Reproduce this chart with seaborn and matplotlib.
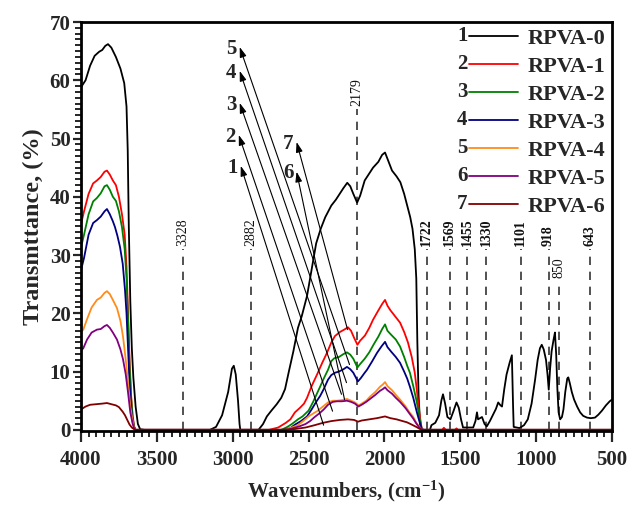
import matplotlib
matplotlib.use("Agg")
import matplotlib.pyplot as plt
from matplotlib.lines import Line2D
from matplotlib.ticker import MultipleLocator
import numpy as np
import pandas as pd
import seaborn as sns

# ---- FTIR spectra: wavenumber (cm-1) and transmittance (%) per sample ----
wn_rpva0 = [4000, 3970, 3940, 3910, 3880, 3860, 3840, 3822, 3800, 3770, 3740, 3715, 3700, 3692,
            3685, 3675, 3665, 3655, 3640, 3625, 3610, 3580, 3150, 3110, 3070, 3030, 3005, 2993,
            2980, 2965, 2955, 2950, 2830, 2800, 2775, 2745, 2710, 2680, 2655, 2630, 2600, 2570,
            2545, 2510, 2480, 2450, 2420, 2390, 2350, 2320, 2300, 2270, 2245, 2225, 2205, 2180,
            2160, 2130, 2100, 2075, 2040, 2015, 1996, 1975, 1950, 1920, 1895, 1870, 1850, 1830,
            1815, 1800, 1790, 1783, 1775, 1765, 1755, 1700, 1690, 1665, 1640, 1625, 1614, 1600,
            1585, 1565, 1545, 1525, 1510, 1495, 1482, 1415, 1400, 1390, 1383, 1370, 1357, 1340,
            1325, 1305, 1290, 1265, 1250, 1235, 1225, 1210, 1195, 1175, 1160, 1152, 1148, 1110,
            1080, 1055, 1030, 1007, 990, 975, 963, 950, 935, 925, 917, 908, 898, 885, 876, 868,
            860, 852, 842, 830, 820, 808, 795, 788, 778, 765, 750, 730, 710, 690, 665, 640, 612,
            590, 566, 540, 515, 500]
t_rpva0 = [58.8, 60.0, 62.5, 64.2, 64.9, 65.2, 65.9, 66.2, 65.6, 64.0, 62.0, 59.5, 55.5, 48.0,
           35.0, 22.0, 14.0, 9.0, 4.0, 1.0, 0.1, 0.0, 0.0, 0.5, 2.5, 6.5, 10.5, 11.0,
           9.5, 5.0, 1.0, 0.0, 0.0, 1.0, 2.3, 3.3, 4.4, 5.5, 7.0, 10.0, 13.5, 17.5,
           19.5, 23.0, 27.5, 32.0, 34.5, 36.5, 38.5, 39.5, 40.3, 41.5, 42.4, 41.8, 40.5, 39.0,
           40.2, 42.8, 44.0, 45.0, 46.0, 47.2, 47.6, 46.2, 44.5, 43.5, 42.5, 40.5, 38.5, 36.5,
           34.5, 31.0, 26.0, 15.0, 6.0, 1.0, 0.0, 0.0, 0.8, 1.2, 2.5, 5.0, 6.1, 4.5,
           2.2, 1.8, 3.2, 4.7, 3.8, 1.8, 0.4, 0.4, 1.5, 3.0, 1.8, 2.0, 2.2, 1.0,
           0.6, 1.5, 2.3, 3.6, 4.7, 4.2, 4.0, 7.0, 9.5, 11.5, 12.8, 4.0, 0.5, 0.3,
           0.8, 1.8, 4.5, 8.6, 12.0, 14.0, 14.6, 13.8, 12.0, 9.5, 6.9, 10.5, 13.5, 15.5, 16.7, 13.0,
           7.0, 3.0, 1.8, 2.2, 3.5, 6.5, 8.8, 9.0, 8.0, 6.5, 5.2, 4.0, 3.0, 2.4, 2.1, 2.0, 2.1,
           2.6, 3.3, 4.2, 4.9, 5.2]

wn_rpva1 = [4000, 3980, 3950, 3920, 3895, 3870, 3845, 3829, 3810, 3790, 3770, 3750, 3730, 3712,
            3700, 3690, 3680, 3670, 3660, 3650, 3640, 2760, 2700, 2650, 2620, 2590, 2556, 2530,
            2510, 2480, 2444, 2410, 2379, 2350, 2326, 2293, 2265, 2240, 2220, 2200, 2178, 2160,
            2128, 2100, 2075, 2040, 2015, 1996, 1980, 1960, 1930, 1897, 1870, 1845, 1820, 1800,
            1785, 1770, 1755, 1745, 1620, 1608, 1596, 1535, 1525, 1515, 500]
t_rpva1 = [35.3, 37.5, 40.5, 42.3, 42.8, 43.4, 44.3, 44.5, 43.8, 42.8, 42.0, 40.0, 37.0, 33.5,
           28.0, 20.0, 12.0, 6.0, 2.5, 0.6, 0.0, 0.0, 0.4, 1.2, 1.8, 3.0, 3.8, 4.5,
           5.5, 7.5, 9.5, 11.5, 13.2, 15.0, 16.1, 16.8, 17.2, 17.6, 17.0, 15.8, 14.6, 15.3,
           16.2, 17.5, 18.9, 20.5, 21.6, 22.3, 21.3, 20.5, 19.5, 18.4, 16.8, 15.0, 12.5, 9.8,
           6.5, 3.0, 0.3, 0.0, 0.0, 0.35, 0.0, 0.0, 0.25, 0.0, 0.0]

wn_rpva2 = [4000, 3980, 3950, 3920, 3895, 3870, 3845, 3829, 3810, 3790, 3770, 3750, 3730, 3712,
            3700, 3690, 3680, 3670, 3660, 3650, 3640, 2680, 2640, 2610, 2570, 2540, 2500, 2470,
            2440, 2424, 2400, 2372, 2350, 2330, 2300, 2270, 2247, 2225, 2205, 2178, 2160, 2130,
            2100, 2070, 2040, 2015, 1996, 1980, 1955, 1925, 1897, 1870, 1850, 1832, 1810, 1786,
            1770, 1755, 1745, 500]
t_rpva2 = [31.3, 33.5, 37.0, 39.2, 39.8, 40.6, 41.8, 42.0, 41.2, 40.0, 39.3, 37.5, 34.8, 31.0,
           26.0, 19.0, 11.0, 5.5, 2.2, 0.5, 0.0, 0.0, 0.5, 1.0, 1.8, 2.3, 3.3, 4.8,
           6.5, 7.4, 8.8, 10.3, 11.8, 12.3, 12.5, 13.0, 13.3, 12.9, 12.2, 10.7, 11.3, 12.2,
           13.3, 14.7, 16.0, 17.3, 18.1, 17.0, 16.3, 15.5, 14.3, 12.5, 11.0, 9.8, 7.5, 4.7,
           2.2, 0.3, 0.0, 0.0]

wn_rpva3 = [4000, 3980, 3950, 3920, 3895, 3870, 3845, 3829, 3810, 3790, 3776, 3760, 3743, 3725,
            3710, 3700, 3690, 3680, 3670, 3660, 3648, 3640, 2660, 2620, 2589, 2550, 2510, 2480,
            2450, 2424, 2400, 2372, 2350, 2326, 2300, 2270, 2247, 2225, 2205, 2175, 2155, 2130,
            2115, 2080, 2049, 2020, 1996, 1980, 1955, 1925, 1897, 1870, 1850, 1832, 1810, 1786,
            1770, 1755, 1745, 500]
t_rpva3 = [27.4, 29.5, 33.5, 35.5, 36.0, 36.6, 37.5, 37.9, 37.0, 35.8, 34.8, 33.3, 31.4, 28.5,
           24.0, 20.0, 14.0, 8.0, 4.0, 1.5, 0.3, 0.0, 0.0, 0.3, 0.9, 1.5, 2.3, 3.5,
           4.8, 5.8, 7.0, 8.6, 9.4, 9.8, 10.0, 10.4, 10.8, 10.4, 9.8, 8.3, 8.9, 9.8,
           10.3, 11.8, 13.2, 14.3, 15.1, 14.2, 13.4, 12.5, 11.5, 10.0, 8.8, 7.4, 5.5, 3.0,
           1.5, 0.2, 0.0, 0.0]

wn_rpva4 = [4000, 3985, 3960, 3930, 3895, 3870, 3845, 3829, 3810, 3790, 3763, 3740, 3723, 3705,
            3690, 3675, 3660, 3650, 3640, 2650, 2610, 2570, 2536, 2500, 2470, 2444, 2410, 2372,
            2340, 2313, 2280, 2247, 2220, 2194, 2170, 2150, 2120, 2095, 2060, 2029, 2010, 1996,
            1980, 1950, 1925, 1897, 1860, 1835, 1812, 1790, 1770, 1755, 1745, 500]
t_rpva4 = [16.8, 17.2, 19.0, 21.0, 22.3, 22.7, 23.5, 23.8, 23.3, 22.3, 20.9, 18.7, 16.0, 12.0,
           8.1, 4.0, 1.5, 0.4, 0.0, 0.0, 0.4, 0.8, 1.5, 2.3, 2.8, 3.2, 3.9, 4.7,
           5.0, 5.0, 5.1, 5.3, 5.0, 4.7, 4.2, 4.5, 5.0, 5.7, 6.5, 7.4, 7.8, 8.2,
           7.5, 6.8, 6.0, 5.2, 4.0, 3.0, 2.3, 1.2, 0.5, 0.1, 0.0, 0.0]

wn_rpva5 = [4000, 3985, 3960, 3930, 3895, 3870, 3845, 3829, 3810, 3790, 3763, 3740, 3723, 3705,
            3690, 3675, 3660, 3650, 3640, 2640, 2600, 2560, 2520, 2490, 2460, 2430, 2400, 2372,
            2340, 2313, 2280, 2247, 2220, 2194, 2172, 2150, 2120, 2095, 2060, 2029, 2010, 1996,
            1980, 1950, 1925, 1897, 1860, 1835, 1812, 1790, 1770, 1755, 1745, 500]
t_rpva5 = [13.6, 14.0, 15.5, 16.7, 17.2, 17.3, 17.8, 18.0, 17.5, 16.7, 15.5, 13.8, 12.1, 9.5,
           6.4, 3.0, 1.1, 0.3, 0.0, 0.0, 0.3, 0.6, 1.0, 1.5, 2.2, 2.8, 3.5, 4.3,
           4.8, 4.9, 4.9, 5.0, 4.8, 4.5, 4.0, 4.3, 4.8, 5.3, 6.0, 6.7, 7.0, 7.3,
           6.8, 6.2, 5.5, 4.8, 3.7, 2.8, 2.0, 1.1, 0.4, 0.1, 0.0, 0.0]

wn_rpva6 = [4000, 3970, 3940, 3900, 3860, 3829, 3800, 3770, 3750, 3725, 3710, 3695, 3680, 3665,
            3650, 3640, 2700, 2600, 2520, 2460, 2405, 2350, 2293, 2240, 2200, 2174, 2150, 2100,
            2050, 1996, 1960, 1920, 1880, 1852, 1820, 1790, 1770, 1755, 500]
t_rpva6 = [3.5, 4.0, 4.3, 4.4, 4.5, 4.6, 4.4, 4.2, 3.9, 3.1, 2.5, 1.7, 0.9, 0.4,
           0.1, 0.0, 0.0, 0.1, 0.4, 0.8, 1.2, 1.5, 1.7, 1.8, 1.7, 1.4, 1.6, 1.8,
           2.0, 2.3, 2.0, 1.8, 1.5, 1.3, 0.9, 0.5, 0.2, 0.0, 0.0]

sample_names = ["RPVA-0", "RPVA-1", "RPVA-2", "RPVA-3", "RPVA-4", "RPVA-5", "RPVA-6"]
sample_numbers = ["1", "2", "3", "4", "5", "6", "7"]
sample_colors = ["#000000", "#ff0000", "#008000", "#000080", "#ff8c1a", "#800080", "#800000"]

# Band positions marked with dashed guides (cm-1)
band_positions = [3328, 2882, 2179, 1722, 1569, 1455, 1330, 1101, 918, 850, 643]

wn_all = [wn_rpva0, wn_rpva1, wn_rpva2, wn_rpva3, wn_rpva4, wn_rpva5, wn_rpva6]
t_all = [t_rpva0, t_rpva1, t_rpva2, t_rpva3, t_rpva4, t_rpva5, t_rpva6]

frames = []
for name, wn, t in zip(sample_names, wn_all, t_all):
    frames.append(pd.DataFrame({"wavenumber": wn, "transmittance": t, "sample": name}))
spectra = pd.concat(frames, ignore_index=True)

# ---- styling ----
sns.set_style("ticks")
SERIF = "Liberation Serif"
plt.rcParams["font.family"] = [SERIF, "DejaVu Serif"]
plt.rcParams["font.weight"] = "bold"
plt.rcParams["mathtext.fontset"] = "custom"
plt.rcParams["mathtext.rm"] = "Liberation Serif:bold"
plt.rcParams["mathtext.bf"] = "Liberation Serif:bold"
plt.rcParams["mathtext.it"] = "Liberation Serif:bold"

fig = plt.figure(figsize=(6.30, 5.09), dpi=100)
ax = fig.add_axes([81 / 630, 1 - 431 / 509, 531 / 630, 409 / 509])

sns.lineplot(data=spectra, x="wavenumber", y="transmittance", hue="sample",
             hue_order=sample_names, palette=sample_colors, estimator=None,
             sort=False, units="sample", legend=False, linewidth=1.3, ax=ax)

ax.set_xlim(4000, 500)
ax.set_ylim(-0.2, 70)

# dashed band guides with rotated labels
guide_top = [31, 31, 55, 31, 31, 31, 31, 31, 31, 25.5, 31]
guide_bold = [False, False, False, True, True, True, True, True, True, False, True]
for pos, top, bold in zip(band_positions, guide_top, guide_bold):
    ax.plot([pos, pos], [0, top], color="#333333", lw=1.2, ls=(0, (5, 4)), zorder=1)
    ax.text(pos, top + 0.6, str(pos), rotation=90, ha="center", va="bottom",
            fontsize=10, fontweight="bold" if bold else "normal", color="#111111")

# numbered arrows pointing into the curve bundle
arrow_heads = {"5": (2954, 65.7), "4": (2954, 61.6), "3": (2954, 56.1), "2": (2960, 50.6),
               "1": (2947, 45.3), "7": (2579, 49.4), "6": (2579, 44.3)}
arrow_tails = {"1": (2401, 0.8), "2": (2342, 3.2), "3": (2283, 6.1), "4": (2250, 8.1),
               "5": (2230, 11.2), "6": (2263, 5.2), "7": (2243, 17.2)}
for key, head in arrow_heads.items():
    tail = arrow_tails[key]
    ax.annotate("", xy=head, xytext=tail,
                arrowprops=dict(arrowstyle="-|>,head_length=0.6,head_width=0.2",
                                color="black", lw=0.8, shrinkA=0, shrinkB=0))
    ax.text(head[0] + 55, head[1] - 0.3, key, ha="center", va="center",
            fontsize=15, fontweight="bold")

# axes decoration
for side in ["left", "bottom", "top", "right"]:
    ax.spines[side].set_visible(True)
    ax.spines[side].set_linewidth(2.0)
    ax.spines[side].set_color("black")
ax.xaxis.set_major_locator(MultipleLocator(500))
ax.xaxis.set_minor_locator(MultipleLocator(50))
ax.yaxis.set_major_locator(MultipleLocator(10))
ax.yaxis.set_minor_locator(MultipleLocator(1))
ax.tick_params(axis="x", which="major", direction="out", length=8, width=1.6, pad=6,
               labelsize=15)
ax.tick_params(axis="x", which="minor", direction="out", length=4.5, width=1.4)
ax.tick_params(axis="y", which="major", direction="out", length=6, width=1.6, pad=1.5,
               labelsize=15)
ax.tick_params(axis="y", which="minor", direction="out", length=4, width=1.4)
ax.tick_params(top=False, right=False, which="both")
for lab in ax.get_xticklabels() + ax.get_yticklabels():
    lab.set_fontweight("bold")

ax.set_xlabel("Wavenumbers, (cm$^{-1}$)", fontsize=15, fontweight="bold", labelpad=6)
ax.set_ylabel("Transmttance, (%)", fontsize=17.5, fontweight="bold", labelpad=4)

handles = [Line2D([], [], color=c, lw=1.3) for c in sample_colors]
leg = ax.legend(handles, sample_names, loc="upper right", frameon=False,
                bbox_to_anchor=(1.0, 1.0), borderaxespad=0.0, borderpad=0.3,
                prop={"family": SERIF, "weight": "bold", "size": 16},
                handlelength=2.2, handletextpad=0.45, labelspacing=0.33)

fig.canvas.draw()
renderer = fig.canvas.get_renderer()
inv = fig.transFigure.inverted()
for num, h in zip(sample_numbers, leg.legend_handles):
    bb = h.get_window_extent(renderer)
    x0, yc = inv.transform((bb.x0, (bb.y0 + bb.y1) / 2))
    fig.text(x0 - 0.002, yc, num, ha="right", va="center", fontsize=15,
             fontweight="bold", family=SERIF)

fig.savefig("out.png", dpi=100)
